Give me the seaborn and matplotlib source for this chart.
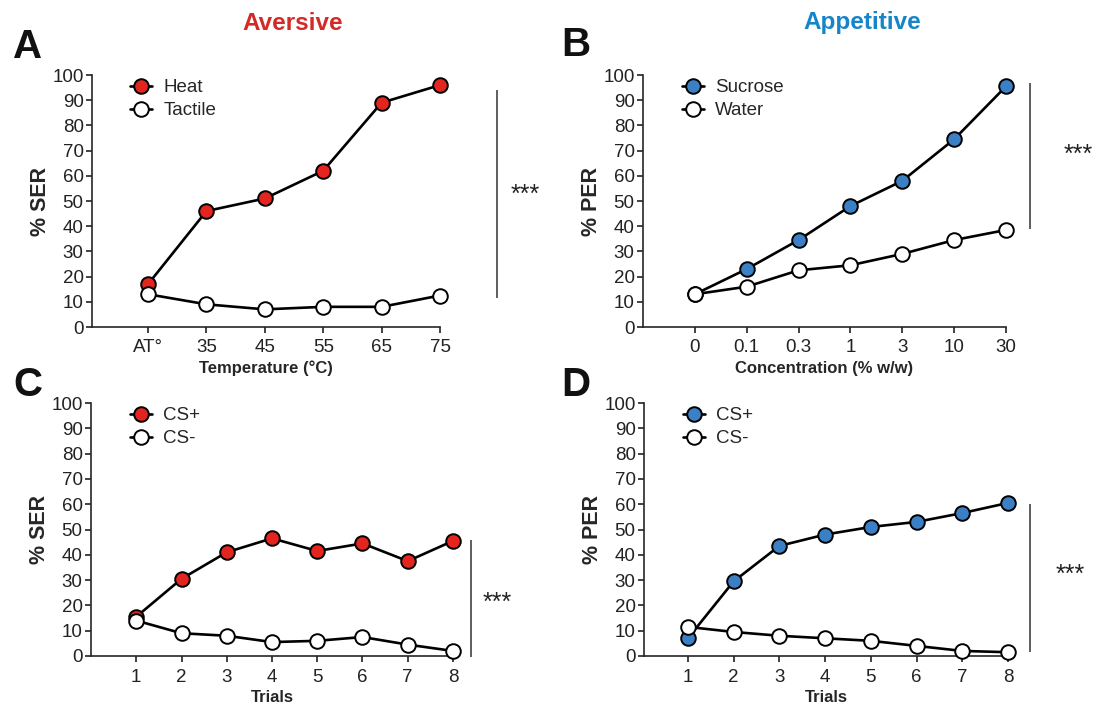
import numpy as np
import pandas as pd
import matplotlib
matplotlib.use('Agg')
import matplotlib.pyplot as plt
import seaborn as sns

sns.set_style('ticks')
plt.rcParams['font.family'] = ['Liberation Sans', 'DejaVu Sans']

# Panel A : aversive, temperature
temp_labels = ['AT°', '35', '45', '55', '65', '75']
heat = [17, 46, 51, 62, 89, 96]
tactile = [13, 9, 7, 8, 8, 12.5]

# Panel B : appetitive, concentration
conc_labels = ['0', '0.1', '0.3', '1', '3', '10', '30']
sucrose = [13, 23, 34.5, 48, 58, 74.5, 95.5]
water = [13, 16, 22.5, 24.5, 29, 34.5, 38.5]

# Panel C : aversive conditioning
trials = [1, 2, 3, 4, 5, 6, 7, 8]
ser_csp = [15.5, 30.5, 41, 46.5, 41.5, 44.5, 37.5, 45.5]
ser_csm = [14, 9, 8, 5.5, 6, 7.5, 4.5, 2]

# Panel D : appetitive conditioning
per_csp = [7, 29.5, 43.5, 48, 51, 53, 56.5, 60.5]
per_csm = [11.5, 9.5, 8, 7, 6, 4, 2, 1.5]

RED = '#e3241f'
BLUE = '#3b7fc4'
TITLE_RED = '#d42a27'
TITLE_BLUE = '#1684c8'

W, H = 1095, 707
fig = plt.figure(figsize=(W / 100, H / 100), dpi=100)


def px_axes(left, right, top, bottom):
    return fig.add_axes([left / W, 1 - bottom / H, (right - left) / W, (bottom - top) / H])


def draw(ax, x, series, labels, colors, xlim, xticks, xticklabels, xlabel, ylabel):
    for y, lab, c in zip(series, labels, colors):
        df = pd.DataFrame({'x': x, 'y': y})
        sns.lineplot(data=df, x='x', y='y', ax=ax, color='black', linewidth=1.9,
                     marker='o', markersize=10.5, markerfacecolor=c,
                     markeredgecolor='black', markeredgewidth=1.4, label=lab,
                     clip_on=False, zorder=3)
    ax.set_xlim(*xlim)
    ax.set_ylim(0, 100)
    ax.set_yticks(range(0, 101, 10))
    ax.set_xticks(xticks)
    ax.set_xticklabels(xticklabels)
    ax.tick_params(labelsize=13.5, length=4, width=1.2, pad=2, colors='#222222')
    ax.tick_params(axis='x', pad=5)
    ax.set_xlabel(xlabel, fontsize=12, fontweight='bold', labelpad=3)
    ax.set_ylabel(ylabel, fontsize=15.5, fontweight='bold', labelpad=1)
    sns.despine(ax=ax)
    for s in ['left', 'bottom']:
        ax.spines[s].set_linewidth(1.2)
    ax.spines['bottom'].set_bounds(xlim[0], xticks[-1])
    ax.legend(loc='upper left', bbox_to_anchor=(0.06, 1.05), frameon=False,
              fontsize=13.5, handlelength=1.2, handletextpad=0.6, labelspacing=0.3)


axA = px_axes(92, 440, 75, 327)
draw(axA, list(range(len(temp_labels))), [heat, tactile], ['Heat', 'Tactile'],
     [RED, 'white'], (-0.96, 5), list(range(6)), temp_labels,
     'Temperature (°C)', '% SER')

axB = px_axes(643, 1006, 75, 327)
draw(axB, list(range(len(conc_labels))), [sucrose, water], ['Sucrose', 'Water'],
     [BLUE, 'white'], (-1, 6), list(range(7)), conc_labels,
     'Concentration (% w/w)', '% PER')

axC = px_axes(91, 453, 403, 656)
draw(axC, trials, [ser_csp, ser_csm], ['CS+', 'CS-'], [RED, 'white'],
     (0, 8), trials, [str(t) for t in trials], 'Trials', '% SER')

axD = px_axes(644, 1008, 403, 656)
draw(axD, trials, [per_csp, per_csm], ['CS+', 'CS-'], [BLUE, 'white'],
     (0.04, 8), trials, [str(t) for t in trials], 'Trials', '% PER')

# significance bars
for ax, xl, y0, y1, xs, ys in [(axA, 5.98, 11.5, 94, 6.46, 52.5),
                               (axB, 6.47, 39, 97, 7.4, 68.3),
                               (axC, 8.40, -0.4, 45.8, 8.97, 21),
                               (axD, 8.48, 1.6, 60.1, 9.36, 32)]:
    ax.vlines(xl, y0, y1, color='#333333', linewidth=1.1, clip_on=False)
    ax.text(xs, ys, '***', fontsize=18, ha='center', va='center', color='#222222')

# panel letters and titles
for letter, x, y in [('A', 28, 47), ('B', 576, 45), ('C', 28, 385), ('D', 576, 385)]:
    fig.text(x / W, 1 - y / H, letter, fontsize=29, fontweight='bold',
             ha='center', va='center', color='#111111')
fig.text(293 / W, 1 - 23 / H, 'Aversive', fontsize=17.5, fontweight='bold',
         color=TITLE_RED, ha='center', va='center')
fig.text(862 / W, 1 - 23 / H, 'Appetitive', fontsize=17.5, fontweight='bold',
         color=TITLE_BLUE, ha='center', va='center')

fig.savefig('out.png', dpi=100, facecolor='white')
